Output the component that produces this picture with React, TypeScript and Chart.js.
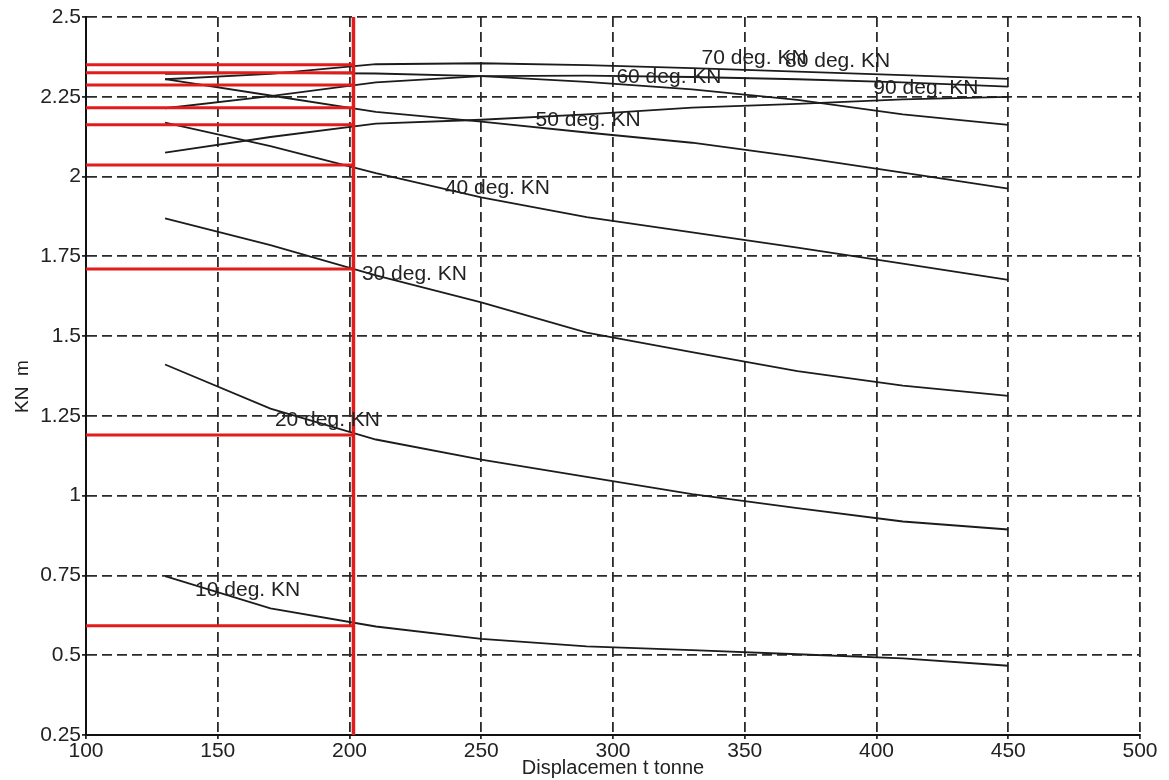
import React, { useEffect, useRef } from "react";
import { Chart, registerables } from "chart.js";

Chart.register(...registerables);

// Displacement (tonne) at which each KN curve is tabulated
const displacement = [130, 170, 210, 250, 290, 330, 370, 410, 450];

// KN (m) per heel angle
const kn10 = [0.748, 0.647, 0.59, 0.551, 0.528, 0.516, 0.503, 0.49, 0.467];
const kn20 = [1.411, 1.273, 1.176, 1.113, 1.059, 1.005, 0.961, 0.919, 0.894];
const kn30 = [1.869, 1.785, 1.69, 1.606, 1.511, 1.45, 1.39, 1.345, 1.313];
const kn40 = [2.169, 2.095, 2.011, 1.935, 1.873, 1.825, 1.777, 1.727, 1.676];
const kn50 = [2.305, 2.254, 2.203, 2.172, 2.138, 2.106, 2.062, 2.012, 1.962];
const kn60 = [2.322, 2.325, 2.323, 2.315, 2.297, 2.273, 2.24, 2.195, 2.162];
const kn70 = [2.305, 2.322, 2.352, 2.355, 2.349, 2.34, 2.329, 2.318, 2.306];
const kn80 = [2.214, 2.252, 2.295, 2.315, 2.316, 2.312, 2.305, 2.295, 2.282];
const kn90 = [2.075, 2.124, 2.166, 2.178, 2.195, 2.216, 2.228, 2.242, 2.25];

const curves = [kn10, kn20, kn30, kn40, kn50, kn60, kn70, kn80, kn90];

// Read-off lines at the operating displacement
const readDisplacement = 201.5;
const readKN = [2.35, 2.325, 2.287, 2.216, 2.162, 2.036, 1.71, 1.19, 0.592];

// Curve labels (data coordinates of the label's left edge / middle)
const labelText = [
  "10 deg. KN",
  "20 deg. KN",
  "30 deg. KN",
  "40 deg. KN",
  "50 deg. KN",
  "60 deg. KN",
  "70 deg. KN",
  "80 deg. KN",
  "90 deg. KN",
];
const labelX = [141.4, 171.7, 204.7, 236.2, 270.6, 301.3, 333.6, 365.3, 398.8];
const labelY = [0.704, 1.237, 1.693, 1.964, 2.177, 2.31, 2.37, 2.36, 2.277];

const xMin = 100;
const xMax = 500;
const yMin = 0.25;
const yMax = 2.5;

const FONT = "'Liberation Sans', Arial, Helvetica, sans-serif";
const RED = "#e31b1b";

const curveLabelsPlugin = {
  id: "curveLabels",
  afterDatasetsDraw(chart: any) {
    const { ctx, scales } = chart;
    const xs = scales.x;
    const ys = scales.y;
    ctx.save();
    ctx.font = `21px ${FONT}`;
    ctx.fillStyle = "#222";
    ctx.textAlign = "left";
    ctx.textBaseline = "middle";
    labelText.forEach((t, i) => {
      ctx.fillText(t, xs.getPixelForValue(labelX[i]), ys.getPixelForValue(labelY[i]));
    });
    ctx.restore();
  },
};

export default function App() {
  const canvasRef = useRef<HTMLCanvasElement | null>(null);

  useEffect(() => {
    const canvas = canvasRef.current;
    if (!canvas) return;

    const redSets = [
      ...readKN.map((v) => ({
        data: [
          { x: xMin, y: v },
          { x: readDisplacement, y: v },
        ],
        borderColor: RED,
        borderWidth: 3,
        pointRadius: 0,
        showLine: true,
        tension: 0,
      })),
      {
        data: [
          { x: readDisplacement, y: yMin },
          { x: readDisplacement, y: yMax },
        ],
        borderColor: RED,
        borderWidth: 3.5,
        pointRadius: 0,
        showLine: true,
        tension: 0,
      },
    ];

    const curveSets = curves.map((arr) => ({
      data: displacement.map((d, i) => ({ x: d, y: arr[i] })),
      borderColor: "#1c1c1c",
      borderWidth: 1.8,
      pointRadius: 0,
      showLine: true,
      tension: 0,
    }));

    const chart = new Chart(canvas, {
      type: "scatter",
      data: { datasets: [...redSets, ...curveSets] as any },
      options: {
        animation: false,
        responsive: true,
        maintainAspectRatio: false,
        layout: { padding: { top: 17, right: 29, left: 0, bottom: 0 } },
        plugins: {
          legend: { display: false },
          tooltip: { enabled: false },
        },
        scales: {
          x: {
            type: "linear",
            min: xMin,
            max: xMax,
            afterFit: (scale: any) => {
              scale.height = 45;
            },
            ticks: {
              stepSize: 50,
              color: "#222",
              font: { family: FONT, size: 21 },
              padding: 0,
              maxRotation: 0,
            },
            grid: {
              color: "#2a2a2a",
              lineWidth: 1.8,
              tickLength: 4,
              tickColor: "#2a2a2a",
            },
            border: { display: true, color: "#111", width: 2, dash: [10, 5] },
            title: {
              display: true,
              text: "Displacemen t tonne",
              color: "#222",
              font: { family: FONT, size: 20 },
              padding: { top: 0, bottom: 0 },
            },
          },
          y: {
            type: "linear",
            min: yMin,
            max: yMax,
            afterFit: (scale: any) => {
              scale.width = 86;
            },
            ticks: {
              stepSize: 0.25,
              color: "#222",
              font: { family: FONT, size: 21 },
              padding: 1,
              callback: (v: any) => String(Number(Number(v).toFixed(2))),
            },
            grid: {
              color: "#2a2a2a",
              lineWidth: 1.8,
              tickLength: 4,
              tickColor: "#2a2a2a",
            },
            border: { display: true, color: "#111", width: 2, dash: [10, 5] },
            title: {
              display: true,
              text: "KN  m    ",
              color: "#222",
              font: { family: FONT, size: 19 },
              padding: { top: 11, bottom: 0 },
            },
          },
        },
      },
      plugins: [curveLabelsPlugin],
    });

    return () => chart.destroy();
  }, []);

  return (
    <div
      style={{
        position: "fixed",
        left: 0,
        top: 0,
        width: 1169,
        height: 780,
        background: "#fff",
      }}
    >
      <canvas ref={canvasRef} />
    </div>
  );
}
